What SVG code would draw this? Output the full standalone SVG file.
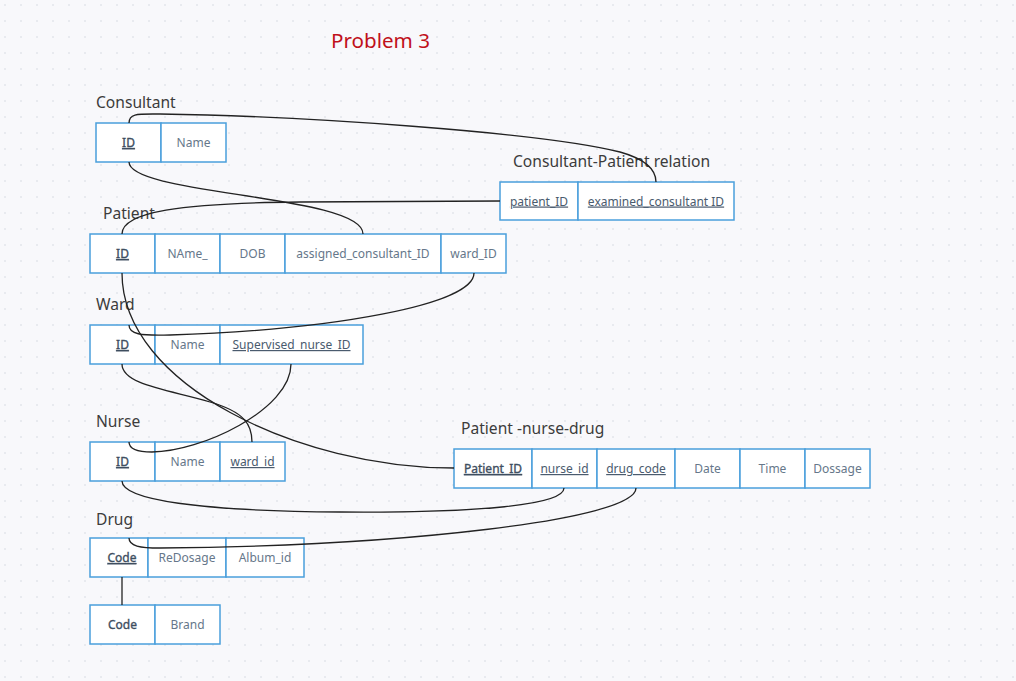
<svg xmlns="http://www.w3.org/2000/svg" width="1016" height="681" viewBox="0 0 1016 681">
<defs>
<pattern id="dots" x="4" y="4" width="16" height="16" patternUnits="userSpaceOnUse">
<circle cx="1" cy="1" r="0.8" fill="#d3d7de"/>
</pattern>
<style>
.cell{fill:#ffffff;stroke:#4a9fdc;stroke-width:1.5}
.t{font-family:"Noto Sans","Open Sans",sans-serif;font-size:12px;fill:#66778a;text-anchor:middle}
.k{fill:#4a5b6e;text-decoration:underline}
.b{fill:#3e4e60;stroke:#3e4e60;stroke-width:0.35}
.lbl{font-family:"Noto Sans","Open Sans",sans-serif;font-size:15.6px;fill:#3c3c3c}
.con{fill:none;stroke:#222;stroke-width:1.3}
</style>
</defs>
<rect width="1016" height="681" fill="#f8f8fb"/>
<rect width="1016" height="681" fill="url(#dots)"/>
<text x="331" y="48" font-family="'Noto Sans','Open Sans',sans-serif" font-size="20.6" fill="#c0101a">Problem 3</text>

<g id="consultant">
<text class="lbl" x="96" y="108">Consultant</text>
<rect class="cell" x="96" y="123" width="65" height="39"/>
<rect class="cell" x="161" y="123" width="65" height="39"/>
<text class="t k b" x="128.5" y="147">ID</text>
<text class="t" x="193.5" y="147">Name</text>
</g>

<g id="consultant-patient">
<text class="lbl" x="513" y="167">Consultant-Patient relation</text>
<rect class="cell" x="500" y="182" width="78" height="38"/>
<rect class="cell" x="578" y="182" width="156" height="38"/>
<text class="t k" x="539" y="205.5">patient_ID</text>
<text class="t k" x="656" y="205.5">examined_consultant ID</text>
</g>

<g id="patient">
<text class="lbl" x="103" y="219">Patient</text>
<rect class="cell" x="90" y="234" width="65" height="39"/>
<rect class="cell" x="155" y="234" width="65" height="39"/>
<rect class="cell" x="220" y="234" width="65" height="39"/>
<rect class="cell" x="285" y="234" width="156" height="39"/>
<rect class="cell" x="441" y="234" width="65" height="39"/>
<text class="t k b" x="122.5" y="258">ID</text>
<text class="t" x="187.5" y="258">NAme_</text>
<text class="t" x="252.5" y="258">DOB</text>
<text class="t" x="363" y="258">assigned_consultant_ID</text>
<text class="t" x="473.5" y="258">ward_ID</text>
</g>

<g id="ward">
<text class="lbl" x="96" y="310">Ward</text>
<rect class="cell" x="90" y="325" width="65" height="39"/>
<rect class="cell" x="155" y="325" width="65" height="39"/>
<rect class="cell" x="220" y="325" width="143" height="39"/>
<text class="t k b" x="122.5" y="349">ID</text>
<text class="t" x="187.5" y="349">Name</text>
<text class="t k" x="291.5" y="349">Supervised_nurse_ID</text>
</g>

<g id="nurse">
<text class="lbl" x="96" y="427">Nurse</text>
<rect class="cell" x="90" y="442" width="65" height="39"/>
<rect class="cell" x="155" y="442" width="65" height="39"/>
<rect class="cell" x="220" y="442" width="65" height="39"/>
<text class="t k b" x="122.5" y="466">ID</text>
<text class="t" x="187.5" y="466">Name</text>
<text class="t k" x="252.5" y="466">ward_id</text>
</g>

<g id="patient-nurse-drug">
<text class="lbl" x="461" y="434">Patient -nurse-drug</text>
<rect class="cell" x="454" y="449" width="78" height="39"/>
<rect class="cell" x="532" y="449" width="65" height="39"/>
<rect class="cell" x="597" y="449" width="78" height="39"/>
<rect class="cell" x="675" y="449" width="65" height="39"/>
<rect class="cell" x="740" y="449" width="65" height="39"/>
<rect class="cell" x="805" y="449" width="65" height="39"/>
<text class="t k b" x="493" y="473">Patient_ID</text>
<text class="t k" x="564.5" y="473">nurse_id </text>
<text class="t k" x="636" y="473">drug_code</text>
<text class="t" x="707.5" y="473">Date</text>
<text class="t" x="772.5" y="473">Time</text>
<text class="t" x="837.5" y="473">Dossage</text>
</g>

<g id="drug">
<text class="lbl" x="96" y="525">Drug</text>
<rect class="cell" x="90" y="538" width="58" height="39"/>
<rect class="cell" x="148" y="538" width="78" height="39"/>
<rect class="cell" x="226" y="538" width="78" height="39"/>
<text class="t k b" x="122" y="562">Code</text>
<text class="t" x="187" y="562">ReDosage</text>
<text class="t" x="265" y="562">Album_id</text>
</g>

<g id="drug-brand">
<rect class="cell" x="90" y="605" width="65" height="39"/>
<rect class="cell" x="155" y="605" width="65" height="39"/>
<text class="t b" x="122.5" y="629">Code</text>
<text class="t" x="187.5" y="629">Brand</text>
</g>

<g id="connectors">
<path class="con" d="M129,123 C129,113 138,114 160,114 C300,116 540,132 620,152 C645,159 656,170 656,182"/>
<path class="con" d="M129,162 C129,195 363,195 363,234"/>
<path class="con" d="M122,234 C122,212 180,203 300,202 L500,201"/>
<path class="con" d="M122,273 C122,385 300,468 454,468"/>
<path class="con" d="M129,325 C129,334 140,336 170,335 C330,330 474,305 474,273"/>
<path class="con" d="M122,364 C122,385 170,390 210,402 C245,412 252,425 252,442"/>
<path class="con" d="M291,364 C291,410 200,452 152,452 C136,452 129,448 129,442"/>
<path class="con" d="M122,481 C122,500 200,511 340,512 C480,513 564,505 564,488"/>
<path class="con" d="M129,538 C129,546 140,548 160,548 C400,546 636,520 636,488"/>
<path class="con" d="M122,577 L122,605"/>
</g>
</svg>
